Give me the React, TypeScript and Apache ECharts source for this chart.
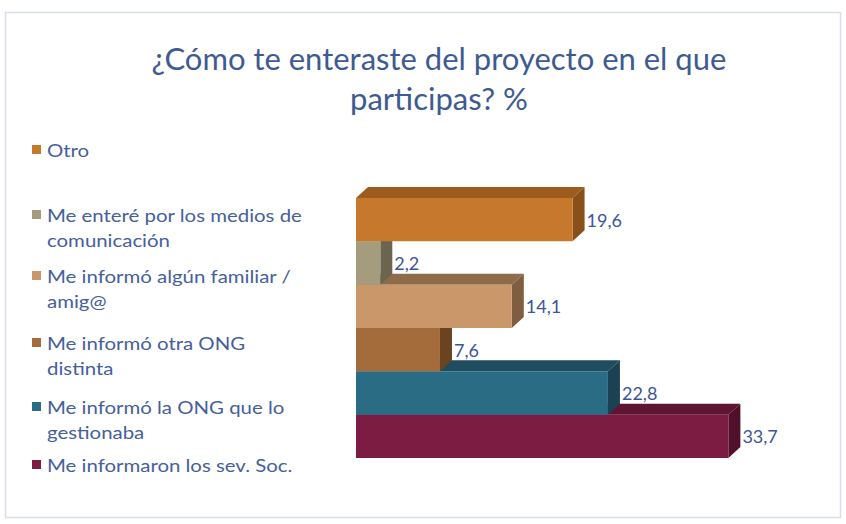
import React, { useEffect, useRef } from "react";
import * as echarts from "echarts";

const TITLE = "¿Cómo te enteraste del proyecto en el que\nparticipas? %";
const categories = [
  "Otro",
  "Me enteré por los medios de comunicación",
  "Me informó algún familiar / amig@",
  "Me informó otra ONG distinta",
  "Me informó la ONG que lo gestionaba",
  "Me informaron los sev. Soc.",
];
const legendLabels = [
  "Otro",
  "Me enteré por los medios de\ncomunicación",
  "Me informó algún familiar /\namig@",
  "Me informó otra ONG\ndistinta",
  "Me informó la ONG que lo\ngestionaba",
  "Me informaron los sev. Soc.",
];
const values = [19.6, 2.2, 14.1, 7.6, 22.8, 33.7];
const frontColors = ["#C6782C", "#A59B7D", "#C9976A", "#A46C3A", "#2B6C85", "#7D1C43"];
const topColors = ["#9C5C1E", "#7A735C", "#8E6C4A", "#7A5028", "#1F4D5F", "#5E1532"];
const sideColors = ["#8A5019", "#6B654F", "#7E5E3E", "#6A4420", "#1A4252", "#4F1029"];

const legendLineCenters = [150, 215, 276, 343, 407, 465];
const FONT = "Lato, 'Open Sans', sans-serif";
const TEXT_BLUE = "#45609C";

export default function App() {
  const ref = useRef<HTMLDivElement>(null);
  useEffect(() => {
    if (!ref.current) return;
    const chart = echarts.init(ref.current, undefined, { renderer: "svg" });
    const DX = 12;
    const DY = 11;
    const legendGraphics: any[] = [];
    legendLabels.forEach((lab, i) => {
      const cy = legendLineCenters[i];
      legendGraphics.push({
        type: "rect",
        shape: { x: 32, y: cy - 5, width: 9, height: 9 },
        style: { fill: frontColors[i] },
      });
      legendGraphics.push({
        type: "text",
        x: 47,
        y: cy - 12.5,
        scaleX: 1.2,
        style: {
          text: lab,
          fill: TEXT_BLUE,
          font: `17px ${FONT}`,
          lineHeight: 25,
          verticalAlign: "top",
          align: "left",
        },
      });
    });
    chart.setOption({
      animation: false,
      backgroundColor: "#ffffff",
      title: {
        text: TITLE,
        left: 434,
        top: 33,
        textAlign: "center",
        textStyle: {
          fontFamily: FONT,
          fontSize: 31,
          fontWeight: "normal",
          color: "#3E5B91",
          lineHeight: 40,
        },
      },
      grid: { left: 356, top: 198, width: 442, height: 260 },
      xAxis: { type: "value", min: 0, max: 40, show: false },
      yAxis: {
        type: "category",
        data: categories,
        inverse: true,
        show: false,
      },
      graphic: [
        {
          type: "rect",
          shape: { x: 5.5, y: 12.5, width: 835, height: 505 },
          style: { fill: "none", stroke: "#D6DEEA", lineWidth: 1.5 },
          silent: true,
        },
        ...legendGraphics,
      ],
      series: [
        {
          type: "custom",
          data: values.map((v, i) => [v, i]),
          encode: { x: 0, y: 1 },
          renderItem: (params: any, api: any) => {
            const idx = api.value(1);
            const val = api.value(0);
            const p0 = api.coord([0, idx]);
            const p1 = api.coord([val, idx]);
            const band = api.size([0, 1])[1];
            const x0 = p0[0];
            const x1 = p1[0];
            const y0 = p0[1] - band / 2;
            const y1 = p0[1] + band / 2;
            const z = 100 - idx * 5;
            return {
              type: "group",
              children: [
                {
                  type: "polygon",
                  z2: z,
                  shape: {
                    points: [
                      [x0, y0],
                      [x1, y0],
                      [x1 + DX, y0 - DY],
                      [x0 + DX, y0 - DY],
                    ],
                  },
                  style: { fill: topColors[idx] },
                },
                {
                  type: "polygon",
                  z2: z,
                  shape: {
                    points: [
                      [x1, y0],
                      [x1 + DX, y0 - DY],
                      [x1 + DX, y1 - DY],
                      [x1, y1],
                    ],
                  },
                  style: { fill: sideColors[idx] },
                },
                {
                  type: "rect",
                  z2: z + 1,
                  shape: { x: x0, y: y0, width: x1 - x0, height: y1 - y0 },
                  style: { fill: frontColors[idx] },
                },
                {
                  type: "text",
                  z2: z + 2,
                  x: x1 + DX + 2,
                  y: p0[1],
                  style: {
                    text: val.toFixed(1).replace(".", ","),
                    fill: "#3B5697",
                    font: `18px ${FONT}`,
                    verticalAlign: "middle",
                    align: "left",
                  },
                },
              ],
            };
          },
        },
      ],
    });
    return () => chart.dispose();
  }, []);
  return (
    <div
      ref={ref}
      style={{ position: "fixed", left: 0, top: 0, width: 846, height: 524 }}
    />
  );
}
